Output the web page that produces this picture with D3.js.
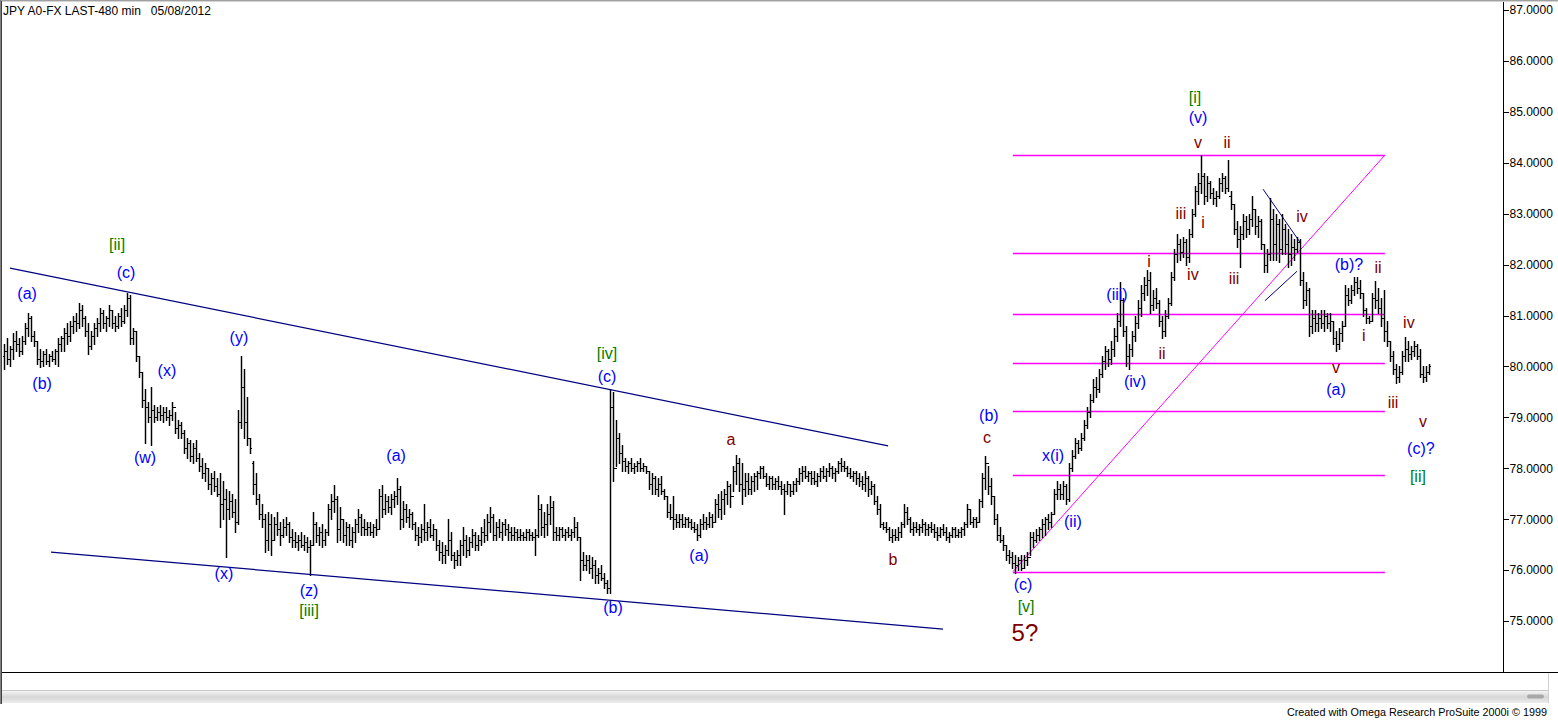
<!DOCTYPE html>
<html><head><meta charset="utf-8">
<script src="https://d3js.org/d3.v7.min.js"></script>
<style>html,body{margin:0;padding:0;background:#fff;overflow:hidden}svg{display:block}</style>
</head><body><svg id="c" width="1558" height="721"></svg>
<script>
// ---- data: 480-min OHLC bars (JPY A0-FX) ----
const highs=[
80.45,80.55,80.4,80.65,80.7,80.55,80.6,80.85,81.05,81.0,
80.7,80.5,80.35,80.3,80.35,80.25,80.3,80.35,80.55,80.6,
80.75,80.85,80.9,81.0,81.05,81.25,81.2,81.0,80.85,80.7,
80.85,80.95,81.15,81.1,81.0,81.2,81.1,81.0,81.05,81.15,
81.2,81.45,81.4,80.75,80.7,80.2,79.9,79.55,79.3,79.6,
79.25,79.2,79.25,79.2,79.2,79.15,79.3,79.1,78.95,78.9,
78.75,78.6,78.55,78.5,78.55,78.3,78.2,78.1,78.0,77.9,
77.95,77.8,77.9,77.75,77.6,77.55,77.5,77.4,79.15,80.2,
79.95,79.4,78.6,78.15,77.9,77.5,77.3,77.1,77.15,77.1,
77.05,77.15,76.95,77.0,77.05,76.95,76.8,76.75,76.7,76.75,
76.7,76.65,76.6,77.15,76.95,76.85,76.9,76.8,77.3,77.5,
77.67,77.45,77.25,77.0,76.95,76.9,76.85,77.0,77.2,77.1,
77.0,76.95,76.95,76.9,77.0,77.6,77.67,77.5,77.45,77.5,
77.55,77.8,77.65,77.35,77.3,77.2,77.15,76.95,76.85,76.9,
77.3,76.95,77.0,76.9,76.8,76.6,76.55,76.5,77.0,76.75,
76.35,76.4,76.6,76.85,76.7,76.65,76.8,76.75,76.7,76.85,
77.0,77.1,77.25,77.1,76.95,77.0,76.95,77.0,76.9,76.85,
76.85,76.8,76.8,76.75,76.8,76.8,76.75,76.8,77.48,77.3,
77.15,77.3,77.45,77.35,76.85,76.85,76.85,76.8,76.85,76.8,
77.05,76.95,76.65,76.35,76.3,76.3,76.25,76.2,76.05,76.1,
75.95,75.8,79.55,79.5,78.95,78.7,78.45,78.2,78.15,78.2,
78.1,78.15,78.2,78.1,78.05,77.95,77.9,77.85,77.8,77.85,
77.6,77.45,77.3,77.45,77.1,77.1,77.1,77.05,77.05,77.0,
76.95,76.9,77.0,77.1,77.05,77.15,77.1,77.4,77.5,77.55,
77.6,77.75,77.7,78.05,78.27,78.2,78.1,77.9,77.9,77.85,
77.9,77.95,78.05,78.05,77.9,77.85,77.85,77.8,77.85,77.75,
77.7,77.75,77.7,77.75,77.8,78.0,78.05,78.05,77.95,77.95,
77.95,77.9,78.0,78.05,78.0,78.1,78.05,78.0,78.15,78.2,
78.15,78.05,78.0,77.95,77.95,77.9,77.85,77.95,77.85,77.75,
77.7,77.45,77.3,76.95,76.95,76.85,76.8,76.8,76.85,76.95,
77.3,77.25,77.05,76.95,76.95,76.9,77.0,76.95,76.9,76.95,
76.9,76.85,76.85,76.9,76.85,76.75,76.85,76.85,76.8,76.85,
76.95,77.3,77.2,77.05,77.05,77.4,77.9,78.25,78.05,77.8,
77.45,77.1,76.85,76.7,76.5,76.4,76.35,76.3,76.25,76.3,
76.3,76.35,76.75,76.75,76.8,76.85,77.0,77.05,77.1,77.15,
77.6,77.75,77.7,77.75,77.7,78.1,78.35,78.6,78.55,78.7,
78.95,79.2,79.45,79.75,79.8,79.95,80.2,80.4,80.35,80.5,
80.75,81.05,81.65,81.35,80.8,80.45,80.7,81.0,81.3,81.6,
81.75,81.9,81.85,81.5,81.55,81.3,81.0,81.1,81.35,81.85,
82.3,82.6,82.5,82.55,82.5,82.7,83.1,83.55,83.8,84.15,
83.8,83.75,83.65,83.5,83.45,83.7,83.8,83.75,84.05,83.45,
83.2,82.85,82.75,83.0,82.95,83.0,83.35,83.1,82.95,82.9,
82.4,82.3,83.3,83.1,83.0,82.9,83.0,82.8,82.7,82.6,
82.5,82.55,82.5,81.85,81.65,81.55,81.1,81.1,81.05,81.1,
81.1,81.05,81.05,80.9,80.7,80.75,80.9,81.6,81.55,81.6,
81.75,81.75,81.7,81.45,81.15,81.0,81.45,81.67,81.55,81.35,
81.5,80.9,80.5,80.3,80.05,80.0,80.3,80.58,80.5,80.4,
80.5,80.45,80.35,80.0,80.0,80.05];
const lows=[
79.95,80.05,80.0,80.15,80.3,80.2,80.25,80.45,80.6,80.5,
80.4,80.05,79.98,80.0,80.05,80.0,80.1,80.05,80.0,80.3,
80.3,80.45,80.5,80.65,80.7,80.75,80.8,80.6,80.25,80.35,
80.45,80.6,80.7,80.75,80.7,80.8,80.75,80.7,80.75,80.8,
80.85,81.0,80.45,80.45,80.1,79.8,79.2,78.5,78.9,78.45,
78.9,78.95,78.95,78.9,78.95,78.85,78.95,78.7,78.6,78.6,
78.3,78.2,78.15,78.1,78.15,77.95,77.8,77.75,77.6,77.5,
77.55,77.45,76.85,77.0,76.25,77.0,77.05,76.75,76.9,78.8,
78.6,78.45,78.3,77.5,77.3,77.0,76.85,76.35,76.4,76.3,
76.6,76.7,76.5,76.65,76.7,76.55,76.45,76.45,76.4,76.45,
76.4,76.35,75.9,76.5,76.55,76.5,76.45,76.5,76.7,77.0,
77.15,76.55,76.6,76.55,76.5,76.5,76.45,76.55,76.75,76.7,
76.7,76.7,76.7,76.65,76.7,76.8,77.05,77.1,77.15,77.1,
77.25,77.3,76.8,76.85,76.95,76.85,76.8,76.6,76.5,76.55,
76.6,76.6,76.65,76.6,76.4,76.2,76.15,76.15,76.3,76.2,
76.05,76.1,76.1,76.3,76.25,76.3,76.45,76.4,76.4,76.5,
76.55,76.6,76.75,76.6,76.6,76.65,76.6,76.7,76.6,76.6,
76.6,76.6,76.6,76.6,76.6,76.6,76.6,76.3,76.65,76.7,
76.65,76.7,76.9,76.6,76.6,76.6,76.65,76.6,76.65,76.6,
76.65,76.6,75.8,76.0,76.0,75.95,75.85,75.75,75.75,75.8,
75.65,75.55,75.55,77.75,78.05,78.1,77.95,77.95,77.9,77.95,
77.9,77.95,77.95,77.95,77.9,77.6,77.5,77.5,77.45,77.5,
77.4,77.05,77.0,76.8,76.85,76.85,76.85,76.85,76.85,76.8,
76.75,76.6,76.65,76.8,76.8,76.85,76.85,76.95,77.05,77.0,
77.1,77.3,77.25,77.55,77.7,77.55,77.3,77.45,77.5,77.5,
77.55,77.6,77.8,77.8,77.65,77.6,77.6,77.6,77.6,77.5,
77.1,77.5,77.45,77.5,77.55,77.7,77.75,77.8,77.75,77.7,
77.7,77.65,77.75,77.8,77.75,77.85,77.8,77.75,77.9,77.95,
77.95,77.85,77.8,77.75,77.7,77.65,77.6,77.55,77.45,77.5,
77.3,77.1,76.85,76.8,76.75,76.6,76.55,76.6,76.6,76.65,
76.85,76.9,76.75,76.7,76.75,76.7,76.75,76.7,76.7,76.75,
76.65,76.6,76.65,76.7,76.6,76.55,76.65,76.65,76.65,76.65,
76.7,76.85,76.9,76.85,76.85,76.95,77.25,77.6,77.5,77.3,
76.9,76.6,76.55,76.4,76.2,76.15,76.05,75.95,76.0,76.0,
76.05,76.1,76.3,76.45,76.55,76.6,76.65,76.7,76.8,76.85,
77.1,77.4,77.4,77.4,77.3,77.35,77.95,78.2,78.3,78.35,
78.55,78.8,79.0,79.3,79.4,79.5,79.8,79.95,80.0,80.05,
80.2,80.5,80.8,80.6,80.0,79.95,80.2,80.5,80.75,81.0,
81.3,81.4,81.05,81.1,81.15,80.8,80.55,80.6,80.95,81.2,
81.7,82.05,82.1,82.15,82.0,82.05,82.55,82.95,83.2,83.4,
83.2,83.25,83.3,83.2,83.15,83.3,83.45,83.4,83.45,83.1,
82.6,82.35,81.95,82.5,82.55,82.6,82.75,82.6,82.55,82.3,
81.85,81.85,82.1,82.1,82.1,82.05,82.2,82.2,81.95,82.0,
82.1,82.25,81.6,81.15,81.2,80.6,80.65,80.7,80.7,80.75,
80.7,80.75,80.7,80.45,80.3,80.35,80.5,80.8,81.2,81.25,
81.4,81.45,81.35,81.0,80.85,80.85,80.9,81.15,81.05,80.8,
80.5,80.4,80.1,79.85,79.67,79.7,79.85,80.1,80.1,80.15,
80.2,80.15,79.8,79.7,79.72,79.85];
const opens=[
80.2,80.3,80.15,80.35,80.5,80.45,80.3,80.5,80.75,80.95,
80.6,80.5,80.15,80.1,80.25,80.1,80.2,80.15,80.3,80.45,
80.55,80.65,80.6,80.8,80.9,80.85,81.1,80.95,80.7,80.4,
80.6,80.75,80.85,81.05,80.85,80.95,81.1,80.85,80.8,81.0,
80.9,81.1,81.35,80.55,80.7,80.2,79.9,79.35,79.2,79.0,
79.15,79.0,79.1,79.05,79.1,79.0,79.05,79.2,78.8,78.85,
78.7,78.4,78.5,78.25,78.4,78.2,78.05,77.9,78.0,77.7,
77.8,77.65,77.5,77.3,77.4,77.2,77.35,77.15,76.95,78.9,
79.6,78.9,78.6,78.1,77.7,77.4,77.1,77.0,76.6,76.9,
76.6,76.9,76.8,76.7,76.85,76.9,76.65,76.6,76.55,76.6,
76.5,76.55,76.45,76.5,76.9,76.7,76.75,76.6,76.75,77.2,
77.35,77.4,76.8,77.0,76.7,76.85,76.6,76.75,76.9,77.05,
76.85,76.8,76.85,76.75,76.85,76.8,77.45,77.2,77.35,77.25,
77.4,77.45,77.6,77.0,77.2,77.05,77.1,76.9,76.7,76.65,
76.8,76.75,76.85,76.7,76.8,76.5,76.35,76.3,76.4,76.6,
76.3,76.2,76.3,76.5,76.6,76.4,76.55,76.7,76.5,76.6,
76.75,76.7,76.95,77.05,76.7,76.85,76.75,76.9,76.8,76.75,
76.7,76.75,76.65,76.7,76.65,76.75,76.7,76.65,76.7,77.2,
76.85,76.9,77.1,77.25,76.75,76.7,76.8,76.7,76.75,76.7,
76.75,76.85,76.65,76.2,76.1,76.2,76.05,76.1,75.9,75.95,
75.85,75.75,75.65,79.2,78.0,78.6,78.3,78.15,78.05,78.1,
78.0,78.05,78.1,78.0,78.05,77.95,77.7,77.8,77.6,77.7,
77.55,77.45,77.15,77.05,77.0,76.95,77.0,76.9,77.0,76.95,
76.85,76.8,76.7,76.9,76.95,76.9,77.05,76.95,77.3,77.2,
77.4,77.5,77.65,77.45,77.95,78.1,77.7,77.6,77.75,77.6,
77.75,77.85,77.9,78.0,77.85,77.7,77.8,77.7,77.75,77.65,
77.6,77.55,77.7,77.55,77.7,77.75,77.9,77.95,77.85,77.9,
77.8,77.75,77.85,77.95,77.85,77.95,78.0,77.9,77.95,78.1,
78.05,78.0,77.9,77.85,77.9,77.8,77.75,77.7,77.8,77.6,
77.65,77.35,77.2,76.9,76.85,76.8,76.65,76.7,76.65,76.75,
76.9,77.15,77.0,76.8,76.85,76.8,76.85,76.9,76.8,76.85,
76.8,76.75,76.7,76.8,76.75,76.65,76.7,76.8,76.7,76.75,
76.8,76.9,77.2,76.95,77.0,76.95,77.35,77.8,78.1,77.65,
77.45,77.0,76.7,76.6,76.5,76.3,76.25,76.15,76.1,76.2,
76.05,76.2,76.25,76.65,76.6,76.7,76.8,76.9,77.0,76.95,
77.1,77.5,77.6,77.5,77.65,77.4,78.0,78.25,78.5,78.4,
78.6,78.85,79.1,79.35,79.6,79.55,79.85,80.1,80.3,80.15,
80.35,80.6,80.9,81.3,80.7,80.2,80.35,80.6,80.85,81.15,
81.45,81.6,81.7,81.2,81.35,81.25,80.9,80.7,81.0,81.25,
81.75,82.2,82.4,82.25,82.45,82.15,82.6,83.0,83.45,83.6,
83.75,83.35,83.6,83.4,83.3,83.35,83.6,83.7,83.5,83.35,
83.2,82.7,82.5,82.6,82.85,82.7,82.9,83.1,82.75,82.85,
82.4,82.0,82.2,82.9,82.4,82.8,82.3,82.7,82.4,82.2,
82.35,82.3,82.45,81.7,81.3,81.5,80.8,80.95,80.85,80.95,
80.85,81.0,80.85,80.9,80.55,80.45,80.65,80.8,81.4,81.3,
81.5,81.65,81.55,81.45,81.1,80.95,80.9,81.35,81.3,81.15,
80.95,80.7,80.5,80.2,79.95,79.8,79.9,80.2,80.35,80.25,
80.3,80.4,80.2,79.85,79.8,79.9];
const closes=[
80.3,80.15,80.35,80.5,80.45,80.3,80.5,80.75,80.95,80.6,
80.5,80.15,80.1,80.25,80.1,80.2,80.15,80.3,80.45,80.55,
80.65,80.6,80.8,80.9,80.85,81.1,80.95,80.7,80.4,80.6,
80.75,80.85,81.05,80.85,80.95,81.1,80.85,80.8,81.0,80.9,
81.1,81.35,80.55,80.7,80.2,79.9,79.35,79.2,79.0,79.15,
79.0,79.1,79.05,79.1,79.0,79.05,79.2,78.8,78.85,78.7,
78.4,78.5,78.25,78.4,78.2,78.05,77.9,78.0,77.7,77.8,
77.65,77.5,77.3,77.4,77.2,77.35,77.15,76.95,78.9,79.6,
78.9,78.6,78.4,77.7,77.4,77.1,77.0,76.6,76.9,76.6,
76.9,76.8,76.7,76.85,76.9,76.65,76.6,76.55,76.6,76.5,
76.55,76.45,76.5,76.9,76.7,76.75,76.6,76.75,77.2,77.35,
77.4,76.8,77.0,76.7,76.85,76.6,76.75,76.9,77.05,76.85,
76.8,76.85,76.75,76.85,76.8,77.45,77.2,77.35,77.25,77.4,
77.45,77.6,77.0,77.2,77.05,77.1,76.9,76.7,76.65,76.8,
76.75,76.85,76.7,76.8,76.5,76.35,76.3,76.4,76.6,76.3,
76.2,76.3,76.5,76.6,76.4,76.55,76.7,76.5,76.6,76.75,
76.7,76.95,77.05,76.7,76.85,76.75,76.9,76.8,76.75,76.7,
76.75,76.65,76.7,76.65,76.75,76.7,76.65,76.7,77.2,76.85,
76.9,77.1,77.25,76.75,76.7,76.8,76.7,76.75,76.7,76.75,
76.85,76.65,76.2,76.1,76.2,76.05,76.1,75.9,75.95,75.85,
75.75,75.65,79.2,78.0,78.6,78.3,78.15,78.05,78.1,78.0,
78.05,78.1,78.0,78.05,77.95,77.7,77.8,77.6,77.7,77.55,
77.45,77.15,77.05,77.0,76.95,77.0,76.9,77.0,76.95,76.85,
76.8,76.7,76.9,76.95,76.9,77.05,76.95,77.3,77.2,77.4,
77.5,77.65,77.45,77.95,78.1,77.7,77.6,77.75,77.6,77.75,
77.85,77.9,78.0,77.85,77.7,77.8,77.7,77.75,77.65,77.6,
77.55,77.7,77.55,77.7,77.75,77.9,77.95,77.85,77.9,77.8,
77.75,77.85,77.95,77.85,77.95,78.0,77.9,77.95,78.1,78.05,
78.0,77.9,77.85,77.9,77.8,77.75,77.7,77.8,77.6,77.65,
77.35,77.2,76.9,76.85,76.8,76.65,76.7,76.65,76.75,76.9,
77.15,77.0,76.8,76.85,76.8,76.85,76.9,76.8,76.85,76.8,
76.75,76.7,76.8,76.75,76.65,76.7,76.8,76.7,76.75,76.8,
76.9,77.2,76.95,77.0,76.95,77.35,77.8,78.1,77.65,77.45,
77.0,76.7,76.6,76.5,76.3,76.25,76.15,76.1,76.2,76.05,
76.2,76.25,76.65,76.6,76.7,76.8,76.9,77.0,76.95,77.1,
77.5,77.6,77.5,77.65,77.4,78.0,78.25,78.5,78.4,78.6,
78.85,79.1,79.35,79.6,79.55,79.85,80.1,80.3,80.15,80.35,
80.6,80.9,81.3,80.7,80.2,80.35,80.6,80.85,81.15,81.45,
81.6,81.7,81.2,81.35,81.25,80.9,80.7,81.0,81.25,81.75,
82.2,82.4,82.25,82.45,82.15,82.6,83.0,83.45,83.6,83.75,
83.35,83.6,83.4,83.3,83.35,83.6,83.7,83.5,83.35,83.2,
82.7,82.5,82.6,82.85,82.7,82.9,83.1,82.75,82.85,82.4,
82.0,82.2,82.9,82.4,82.8,82.3,82.7,82.4,82.2,82.35,
82.3,82.45,81.7,81.3,81.5,80.8,80.95,80.85,80.95,80.85,
81.0,80.85,80.9,80.55,80.45,80.65,80.8,81.4,81.3,81.5,
81.65,81.55,81.45,81.1,80.95,80.9,81.35,81.3,81.15,80.95,
80.7,80.5,80.2,79.95,79.8,79.9,80.2,80.35,80.25,80.3,
80.4,80.2,79.85,79.8,79.9,80.0];

const priceTicks=[75,76,77,78,79,80,81,82,83,84,85,86,87];
const fibLevels=[84.15,82.22,81.03,80.06,79.13,77.87,75.97];
const fibSpan=[336.3,460.3];               // bar index range of the fib grid
const fibDiagonal=[[336.3,75.97],[460.3,84.15]];
const channelLines=[[[2,81.93],[294.7,78.44]],[[15.67,76.356],[313,74.844]]];
const wedgeLines=[[[419.7,83.48],[432,82.44]],[[420.3,81.29],[431,81.87]]];

// wave labels: [text, bar index, price]
const blueLabels=[["(a)",7.7,81.44],["(b)",12.7,79.67],["(c)",40.7,81.84],["(x)",54.3,79.92],["(w)",47,78.22],
 ["(y)",78.3,80.56],["(x)",73.3,75.94],["(z)",101.7,75.6],["(a)",130.7,78.26],["(c)",201,79.81],["(b)",203,75.27],
 ["(a)",231.7,76.28],["(b)",328.3,79.03],["(c)",339.7,75.71],["x(i)",349.7,78.25],["(ii)",356.3,76.96],
 ["(iii)",371,81.42],["(iv)",377,79.71],["(v)",398,84.88],["(b)?",448.3,82.01],["(a)",444,79.54],["(c)?",472.3,78.38]];
const greenLabels=[["[ii]",37.7,82.4],["[iii]",101.7,75.2],["[iv]",201,80.26],["[v]",340.7,75.28],["[i]",397,85.29],["[ii]",471.3,77.83]];
const maroonLabels=[["a",242.3,78.56],["b",296.3,76.2],["c",327.7,78.61],["v",398,84.39],["ii",407.7,84.39],["iii",392.3,83.0],
 ["i",399.7,82.82],["iv",396.3,81.8],["iii",410,81.72],["iv",432.7,82.95],["i",381.7,82.07],["ii",386,80.26],
 ["v",444,79.97],["i",453.3,80.6],["ii",458,81.95],["iv",468.3,80.87],["iii",463,79.29],["v",473,78.91]];
const bigLabel=["5?",340.3,74.77];

// ---- drawing ----
const svg=d3.select("#c");
const FONT="'Liberation Sans', Arial, sans-serif";
const N=closes.length;
const x=d3.scaleLinear().domain([0,N-1]).range([4,1429]);
const y=d3.scaleLinear().domain([74,87]).range([672,10]);
const AX=1503;

// frame
svg.append("rect").attr("x",0).attr("y",0).attr("width",1558).attr("height",721).attr("fill","#fff");
svg.append("line").attr("x1",0).attr("x2",1558).attr("y1",0.5).attr("y2",0.5).attr("stroke","#a0a0a0");
svg.append("line").attr("x1",0).attr("x2",1558).attr("y1",1.5).attr("y2",1.5).attr("stroke","#d4d4d4");
svg.append("line").attr("x1",0.5).attr("x2",0.5).attr("y1",0).attr("y2",704).attr("stroke","#808080");
svg.append("line").attr("x1",1.5).attr("x2",1.5).attr("y1",1).attr("y2",704).attr("stroke","#404040");

// bottom line
svg.append("line").attr("x1",2).attr("x2",1558).attr("y1",672.5).attr("y2",672.5).attr("stroke","#000").attr("shape-rendering","crispEdges");
// axis line
svg.append("line").attr("x1",AX+0.5).attr("x2",AX+0.5).attr("y1",2).attr("y2",673).attr("stroke","#000").attr("shape-rendering","crispEdges");

const axis=d3.axisRight(y).tickValues(priceTicks).tickFormat(d=>d.toFixed(4)).tickSize(5).tickSizeOuter(0).tickPadding(1);
const ag=svg.append("g").attr("transform",`translate(${AX+0.5},0)`).call(axis);
ag.select(".domain").remove();
ag.selectAll(".tick line").attr("stroke","#000").attr("shape-rendering","crispEdges");
ag.selectAll(".tick text").attr("fill","#000").style("font-family",FONT).style("font-size","12px");

// title
svg.append("text").attr("x",3).attr("y",15).attr("fill","#000").style("font-family",FONT).style("font-size","12px")
  .attr("xml:space","preserve").text("JPY A0-FX LAST-480 min   05/08/2012");

// fib grid (magenta)
const fg=svg.append("g");
fg.selectAll("line.fib").data(fibLevels).join("line").attr("class","fib")
  .attr("x1",x(fibSpan[0])).attr("x2",x(fibSpan[1])).attr("y1",d=>Math.round(y(d))+0.5).attr("y2",d=>Math.round(y(d))+0.5)
  .attr("stroke","#ff00ff").attr("stroke-width",1.4);
fg.append("line").attr("x1",x(fibDiagonal[0][0])).attr("y1",y(fibDiagonal[0][1])).attr("x2",x(fibDiagonal[1][0])).attr("y2",y(fibDiagonal[1][1]))
  .attr("stroke","#ff00ff").attr("stroke-width",1);

// bars
const bars=svg.append("g");
let vstr="", tstr="";
for(let i=0;i<N;i++){
  const px=Math.round(x(i));
  const yh=Math.round(y(highs[i])), yl=Math.round(y(lows[i]));
  const yo=Math.round(y(opens[i])), yc=Math.round(y(closes[i]));
  vstr+=`M${px+0.5},${yh}V${yl+1}`;
  tstr+=`M${px-1},${yo+0.5}H${px+0.5}M${px+0.5},${yc+0.5}H${px+2}`;
}
bars.append("path").attr("d",vstr).attr("fill","none").attr("stroke","#000").attr("stroke-width",1.45);
bars.append("path").attr("d",tstr).attr("fill","none").attr("stroke","#000").attr("stroke-width",1).attr("shape-rendering","crispEdges");

// navy trend lines
const lineGen=d3.line().x(d=>x(d[0])).y(d=>y(d[1]));
svg.append("g").selectAll("path").data(channelLines).join("path").attr("d",lineGen)
  .attr("fill","none").attr("stroke","#000080").attr("stroke-width",1.25);
svg.append("g").selectAll("path").data(wedgeLines).join("path").attr("d",lineGen)
  .attr("fill","none").attr("stroke","#000080").attr("stroke-width",1);

// labels
function labels(arr,color,size){
  svg.append("g").selectAll("text").data(arr).join("text")
   .attr("x",d=>x(d[1])).attr("y",d=>y(d[2])).attr("text-anchor","middle").attr("dominant-baseline","central")
   .attr("fill",color).style("font-family",FONT).style("font-size",size+"px").text(d=>d[0]);
}
labels(blueLabels,"#0000ff",16);
labels(greenLabels,"#008000",16);
labels(maroonLabels,"#800000",16);
labels([bigLabel],"#800000",24);

// scrollbar & footer
svg.append("line").attr("x1",2).attr("x2",1548).attr("y1",690.5).attr("y2",690.5).attr("stroke","#c8c8c8");
const grad=svg.append("defs").append("linearGradient").attr("id","sb").attr("x1",0).attr("x2",0).attr("y1",0).attr("y2",1);
grad.append("stop").attr("offset","0").attr("stop-color","#f4f4f4");
grad.append("stop").attr("offset","0.5").attr("stop-color","#d6d6d6");
grad.append("stop").attr("offset","1").attr("stop-color","#ececec");
svg.append("rect").attr("x",2).attr("y",691).attr("width",1546).attr("height",12).attr("fill","url(#sb)");
svg.append("rect").attr("x",1527).attr("y",694.5).attr("width",17).attr("height",4).attr("rx",2).attr("fill","#a8a8a8");
svg.append("line").attr("x1",1548.5).attr("x2",1548.5).attr("y1",673).attr("y2",703).attr("stroke","#d0d0d0");
svg.append("text").attr("x",1547).attr("y",716).attr("text-anchor","end").attr("fill","#000")
  .style("font-family",FONT).style("font-size","10.8px")
  .text("Created with Omega Research ProSuite 2000i \u00A9 1999");
</script>
</body></html>
